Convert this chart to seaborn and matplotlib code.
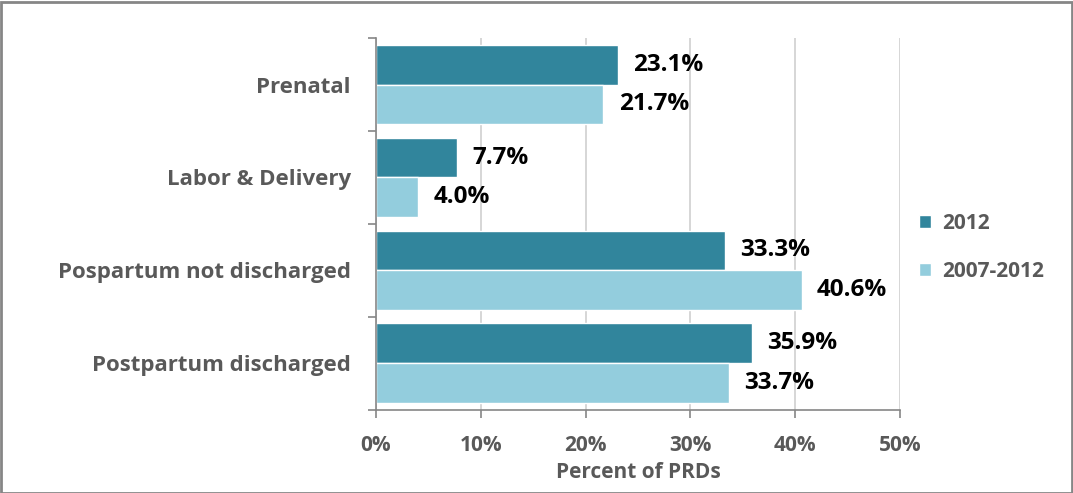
import matplotlib
matplotlib.use('Agg')
import matplotlib.pyplot as plt
import seaborn as sns
import pandas as pd
from matplotlib.patches import Rectangle
from matplotlib.ticker import FuncFormatter

categories = ['Prenatal', 'Labor & Delivery', 'Pospartum not discharged', 'Postpartum discharged']
series_names = ['2012', '2007-2012']
vals_2012 = [23.1, 7.7, 33.3, 35.9]
vals_2007_2012 = [21.7, 4.0, 40.6, 33.7]
colors = ['#31859C', '#93CDDD']

df = pd.DataFrame({
    'category': categories * 2,
    'period': [series_names[0]] * 4 + [series_names[1]] * 4,
    'value': vals_2012 + vals_2007_2012,
})

sns.set_style('white')
plt.rcParams['font.family'] = ['Open Sans', 'DejaVu Sans']
plt.rcParams['font.weight'] = 'bold'

fig = plt.figure(figsize=(10.73, 4.93), dpi=100)
ax = fig.add_axes([0.3504, 0.1684, 0.4884, 0.7545])

sns.barplot(data=df, y='category', x='value', hue='period', order=categories,
            hue_order=series_names, palette=colors, orient='h', width=0.86,
            saturation=1, ax=ax)

for cont in ax.containers:
    ax.bar_label(cont, fmt='%.1f%%', padding=11, fontsize=17.5, fontweight='bold', color='black')

ax.set_xlim(0, 50)
ax.set_ylim(3.5, -0.5)
ax.set_xticks([0, 10, 20, 30, 40, 50])
ax.xaxis.set_major_formatter(FuncFormatter(lambda v, p: f'{v:.0f}%'))
ax.grid(axis='x', color='#d0d0d0', linewidth=1.2)
ax.set_axisbelow(True)

for s in ['top', 'right']:
    ax.spines[s].set_visible(False)
for s in ['left', 'bottom']:
    ax.spines[s].set_color('#868686')
    ax.spines[s].set_linewidth(1.2)

ax.tick_params(axis='x', which='major', bottom=True, length=6, color='#868686', width=1.2,
               labelsize=15, labelcolor='#595959', pad=12)
ax.set_yticks([-0.5, 0.5, 1.5, 2.5, 3.5], minor=True)
ax.tick_params(axis='y', which='minor', left=True, length=6, color='#868686', width=1.2)
ax.tick_params(axis='y', which='major', left=False, length=0, labelsize=16,
               labelcolor='#595959', pad=18)

ax.set_xlabel('Percent of PRDs', fontsize=15, color='#595959', fontweight='bold', labelpad=4)
ax.set_ylabel('')

ax.legend(loc='center left', bbox_to_anchor=(1.0, 0.438), frameon=False, fontsize=15,
          labelcolor='#595959', handlelength=0.6, handleheight=0.6, labelspacing=1.3,
          handletextpad=0.5)

fig.patches.append(Rectangle((0.001, 0.0), 0.998, 0.995, transform=fig.transFigure,
                             fill=False, edgecolor='#868686', linewidth=2))

fig.savefig('out.png', dpi=100)
